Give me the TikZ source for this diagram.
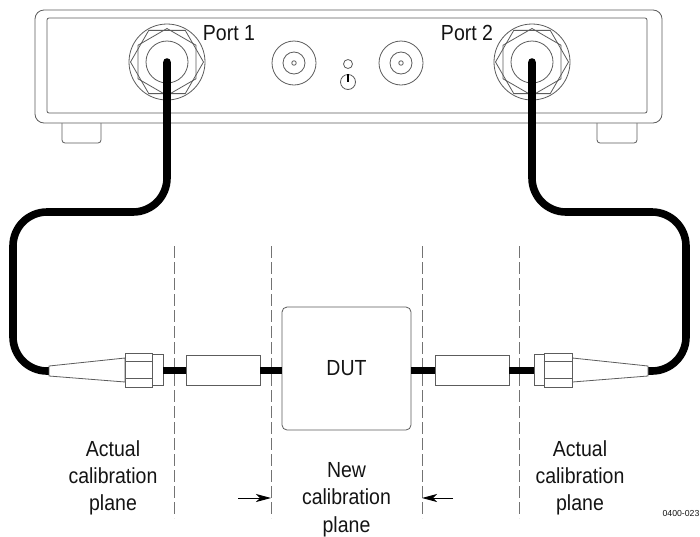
\documentclass[tikz,border=0pt]{standalone}
\usepackage{fontspec}
\setmainfont{Liberation Sans}
\usepackage{tikz}
\usetikzlibrary{arrows.meta}
\usetikzlibrary{positioning}
\usetikzlibrary{shapes.geometric}
\definecolor{mline}{rgb}{0.36, 0.36, 0.36}
\definecolor{mdash}{rgb}{0.45, 0.45, 0.45}
\definecolor{mtext}{rgb}{0.08, 0.08, 0.08}
\tikzset{part/.style = {draw=mline, line width = 0.8, fill=white, inner sep = 0}}
\tikzset{ring/.style = {draw=mline, line width = 0.8, circle, inner sep = 0, minimum size = #1}}
\tikzset{hexa/.style = {draw=mline, line width = 0.8, regular polygon, regular polygon sides = 6, inner sep = 0, minimum size = #1}}
\tikzset{cable/.style = {line width = 7.6, line cap = round, rounded corners = 34}}
\tikzset{stub/.style = {line width = 6.8}}
\tikzset{plane/.style = {draw=mdash, line width = 0.8, dash pattern = on 11.5pt off 4.5pt}}
\tikzset{label/.style = {align = center, text=mtext, inner sep = 0, yscale = 1.12, transform shape, font = \fontsize{19.5}{24.4}\selectfont}}
\tikzset{marker/.style = {-{Stealth[length = 15, width = 8, inset = 4]}, line width = 0.9}}

\begin{document}
\begin{tikzpicture}[x=1pt, y=-1pt]
      \useasboundingbox (0, 0) rectangle (700, 536);
      % instrument
      \draw [draw=mline, line width = 0.8, rounded corners = 3] (62, 123) -- (62, 143) -- (101, 143) -- (101, 123);
      \draw [draw=mline, line width = 0.8, rounded corners = 3] (597, 123) -- (597, 143) -- (637, 143) -- (637, 123);
      \node (case) [part, rounded corners = 9, minimum width = 627, minimum height = 113] at (348.5, 66.5) {};
      \node (panel) [part, rounded corners = 2, minimum width = 600, minimum height = 95] at (347, 65.5) {};
      \foreach \name/\x in {portA/167, portB/532} {
        \node [ring = 76] at (\x, 62) {};
        \node [hexa = 73] at (\x, 62) {};
        \node [hexa = 67, shape border rotate = 30] at (\x, 62) {};
        \node (\name) [ring = 42] at (\x, 62) {};
      }
      \foreach \x in {294, 401} {
        \node [ring = 44] at (\x, 63) {};
        \node [ring = 22] at (\x, 63) {};
        \node [ring = 4.5] at (\x, 63) {};
      }
      \node (led) [ring = 9] at (348, 64) {};
      \node (power) [ring = 15] at (348, 82) {};
      \coordinate (powertop) at (348, 74);
      \draw [line width = 2.6] (powertop) -- (power.center);
      \node [label] at (229, 33) {Port 1};
      \node [label] at (467, 33) {Port 2};
      % calibration planes
      \foreach \name/\x in {planeA/174, planeB/271, planeC/422, planeD/519} {
        \coordinate (\name top) at (\x, 246);
        \coordinate (\name) at (\x, 518);
        \draw [plane] (\name top) -- (\name);
      }
      % cables
      \coordinate (bendA) at (167, 212);
      \coordinate (bendB) at (13, 212);
      \coordinate (bendC) at (13, 371);
      \coordinate (bootA) at (55, 371);
      \coordinate (bendD) at (532, 212);
      \coordinate (bendE) at (686, 212);
      \coordinate (bendF) at (686, 371);
      \coordinate (bootB) at (642, 371);
      \draw [cable] (portA.center) -- (bendA) -- (bendB) -- (bendC) -- (bootA);
      \draw [cable] (portB.center) -- (bendD) -- (bendE) -- (bendF) -- (bootB);
      % connectors
      \node (dut) [part, rounded corners = 5, minimum width = 129, minimum height = 123] at (346.5, 368.5) {};
      \node [label] at (dut) {DUT};
      \node (adapterA) [part, minimum width = 74, minimum height = 30] at (223, 370) {};
      \node (adapterB) [part, minimum width = 74, minimum height = 30] at (472, 370) {};
      \node (collarA) [part, minimum width = 11, minimum height = 31] at (157.5, 369.5) {};
      \node (collarB) [part, minimum width = 10, minimum height = 31] at (539, 369.5) {};
      \node (nutA) [part, minimum width = 27, minimum height = 34] at (139, 370) {};
      \node (nutB) [part, minimum width = 28, minimum height = 34] at (558, 370) {};
      \foreach \y in {-8.5, 8.5} {
        \draw [draw=mline, line width = 0.8] ([yshift=\y]nutA.west) -- ([yshift=\y]nutA.east);
        \draw [draw=mline, line width = 0.8] ([yshift=\y]nutB.west) -- ([yshift=\y]nutB.east);
      }
      \draw [draw=mline, line width = 0.8, fill=white] (49, 366) -- ([yshift=12]nutA.west) -- ([yshift=-12]nutA.west) -- (49, 376) -- cycle;
      \draw [draw=mline, line width = 0.8, fill=white] (648, 366) -- ([yshift=12]nutB.east) -- ([yshift=-12]nutB.east) -- (648, 376) -- cycle;
      \draw [stub] (collarA.east |- 0, 370.5) -- (adapterA.west |- 0, 370.5);
      \draw [stub] (adapterA.east |- 0, 370.5) -- (dut.west |- 0, 370.5);
      \draw [stub] (dut.east |- 0, 370.5) -- (adapterB.west |- 0, 370.5);
      \draw [stub] (adapterB.east |- 0, 370.5) -- (collarB.west |- 0, 370.5);
      % markers
      \coordinate (markerA) at (238, 498);
      \coordinate (markerB) at (453, 498);
      \draw [marker] (markerA) -- (planeB |- markerA);
      \draw [marker] (markerB) -- (planeC |- markerB);
      % labels
      \node [label] at (113, 478) {Actual\\calibration\\plane};
      \node [label] at (346.5, 499.5) {New\\calibration\\plane};
      \node [label] at (580, 478) {Actual\\calibration\\plane};
      \node [text=mtext, font = \fontsize{8.7}{10}\selectfont] at (681, 513) {0400-023};
    \end{tikzpicture}
\end{document}
